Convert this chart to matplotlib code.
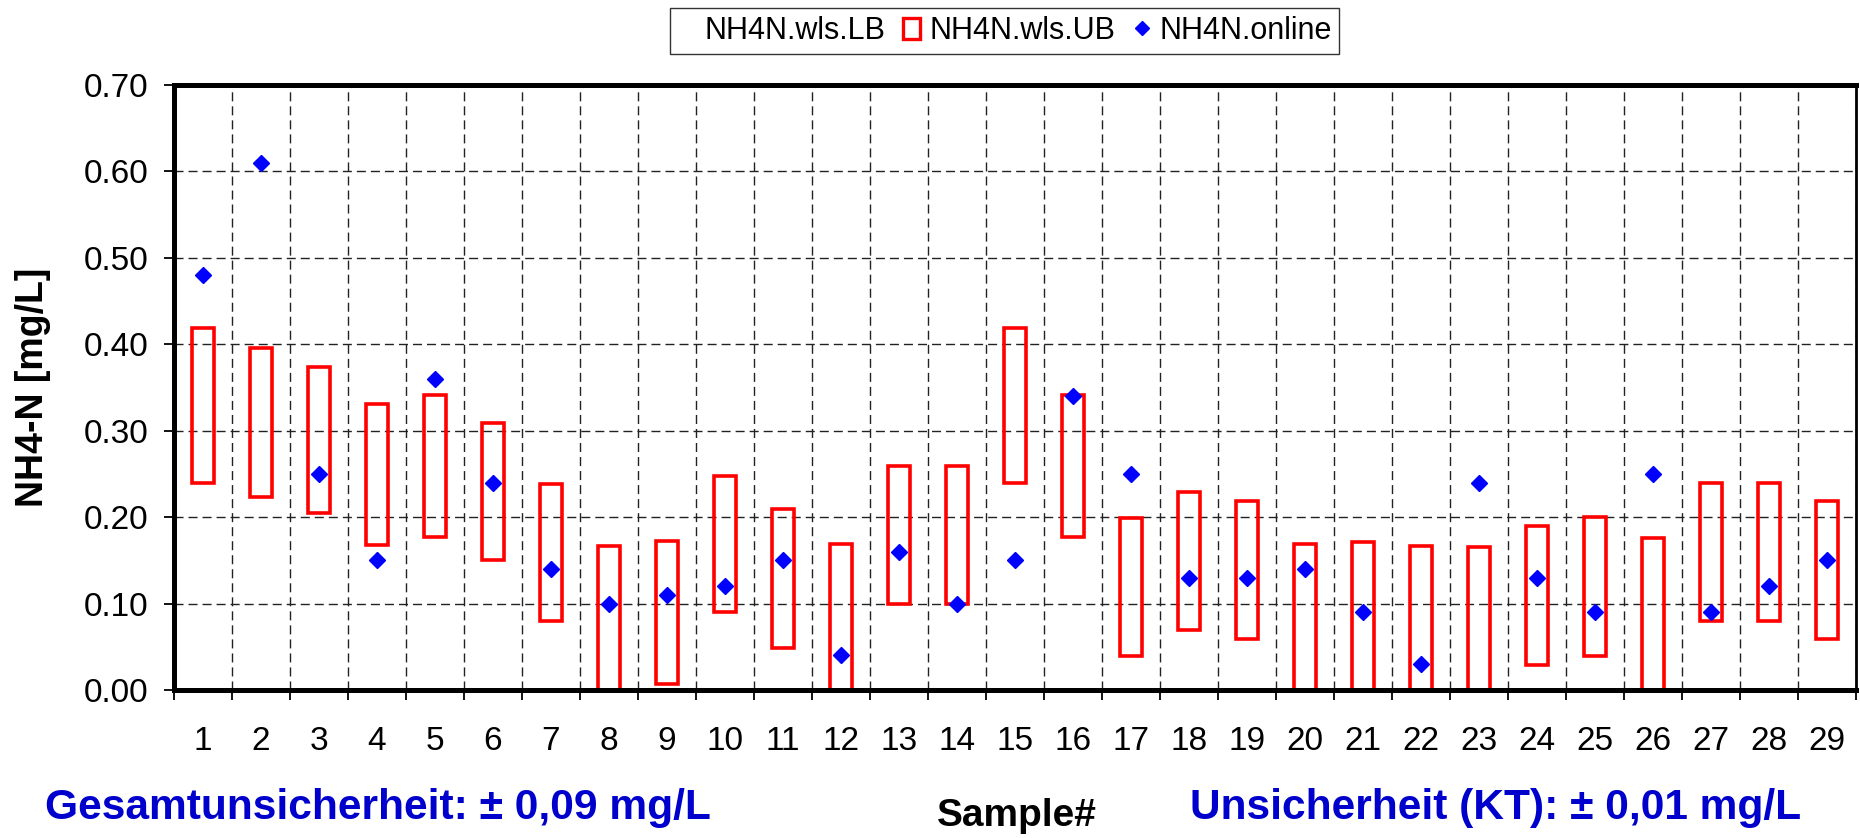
import numpy as np
import matplotlib
matplotlib.use("Agg")
import matplotlib.pyplot as plt
from matplotlib.lines import Line2D
from matplotlib.patches import Patch

plt.rcParams['font.family'] = ['Liberation Sans', 'DejaVu Sans']

# sample numbers and the three series
samples = list(range(1, 30))
wls_lb = [0.240, 0.223, 0.205, 0.168, 0.177, 0.150, 0.080, 0.000, 0.007, 0.090,
          0.049, 0.000, 0.100, 0.100, 0.240, 0.177, 0.039, 0.069, 0.059, 0.000,
          0.000, 0.000, 0.000, 0.029, 0.039, 0.000, 0.080, 0.080, 0.059]
wls_ub = [0.419, 0.396, 0.374, 0.331, 0.341, 0.309, 0.238, 0.167, 0.172, 0.248,
          0.209, 0.169, 0.259, 0.259, 0.419, 0.341, 0.199, 0.229, 0.219, 0.169,
          0.171, 0.167, 0.165, 0.190, 0.200, 0.176, 0.239, 0.239, 0.219]
online = [0.48, 0.61, 0.25, 0.15, 0.36, 0.24, 0.14, 0.10, 0.11, 0.12,
          0.15, 0.04, 0.16, 0.10, 0.15, 0.34, 0.25, 0.13, 0.13, 0.14,
          0.09, 0.03, 0.24, 0.13, 0.09, 0.25, 0.09, 0.12, 0.15]
yticks = [0.0, 0.1, 0.2, 0.3, 0.4, 0.5, 0.6, 0.7]

fig = plt.figure(figsize=(18.6, 8.38), dpi=100)
ax = fig.add_axes([0.0935, 0.1766, 0.9043, 0.722])

x = np.array(samples)
lb = np.array(wls_lb)
ub = np.array(wls_ub)

# uncertainty band as open red boxes
ax.bar(x, ub - lb, bottom=lb, width=0.38, facecolor='none',
       edgecolor='red', linewidth=2.6, zorder=2)
ax.plot(x, online, linestyle='none', marker='D', markersize=7.8,
        color='blue', markeredgecolor='blue', zorder=3)

ax.set_xlim(0.5, 29.5)
ax.set_ylim(0, 0.7)
ax.set_yticks(yticks)
ax.set_yticklabels([f'{v:.2f}' for v in yticks])
ax.set_xticks(x)
ax.set_xticklabels([str(s) for s in samples])
ax.set_xticks(np.arange(0.5, 30, 1.0), minor=True)

ax.set_axisbelow(True)
dash = (0, (6.5, 3.6))
ax.yaxis.grid(True, color='#222222', linestyle=dash, linewidth=1.0)
ax.xaxis.grid(True, which='minor', color='#222222', linestyle=dash, linewidth=1.0)
ax.xaxis.grid(False, which='major')

ax.tick_params(axis='y', direction='out', length=7.5, width=1.3, pad=11, labelsize=24)
ax.tick_params(axis='x', which='major', length=0, pad=26, labelsize=24)
ax.tick_params(axis='x', which='minor', direction='out', length=7.5, width=1.3)

for side in ['left', 'right', 'top', 'bottom']:
    ax.spines[side].set_linewidth(3.6)
    ax.spines[side].set_color('black')
ax.spines['right'].set_linewidth(2.0)

ax.text(-0.0839, 0.5, 'NH4-N [mg/L]', transform=ax.transAxes, rotation=90,
        ha='center', va='center', fontsize=27, fontweight='bold')
ax.text(0.501, -0.208, 'Sample#', transform=ax.transAxes,
        ha='center', va='center', fontsize=28, fontweight='bold')

fig.text(45 / 1860, 1 - 808 / 838, 'Gesamtunsicherheit: \u00b1 0,09 mg/L',
         ha='left', va='center', fontsize=30.6, fontweight='bold', color='#0000CC')
fig.text(1190 / 1860, 1 - 808 / 838, 'Unsicherheit (KT): \u00b1 0,01 mg/L',
         ha='left', va='center', fontsize=30.6, fontweight='bold', color='#0000CC')

handles = [
    Line2D([], [], linestyle='none'),
    Patch(facecolor='white', edgecolor='red', linewidth=2.4),
    Line2D([], [], linestyle='none', marker='D', markersize=7.2, color='blue'),
]
labels = ['NH4N.wls.LB', 'NH4N.wls.UB', 'NH4N.online']
leg = fig.legend(handles, labels, loc='center', bbox_to_anchor=(0.5403, 0.963),
                 ncol=3, fontsize=22, frameon=True, fancybox=False, shadow=False,
                 handlelength=0.55, handleheight=0.7, handletextpad=0.3,
                 columnspacing=0.6, borderpad=0.25, borderaxespad=0)
leg.get_frame().set_edgecolor('black')
leg.get_frame().set_linewidth(1.0)

fig.savefig('out.png', dpi=100)
